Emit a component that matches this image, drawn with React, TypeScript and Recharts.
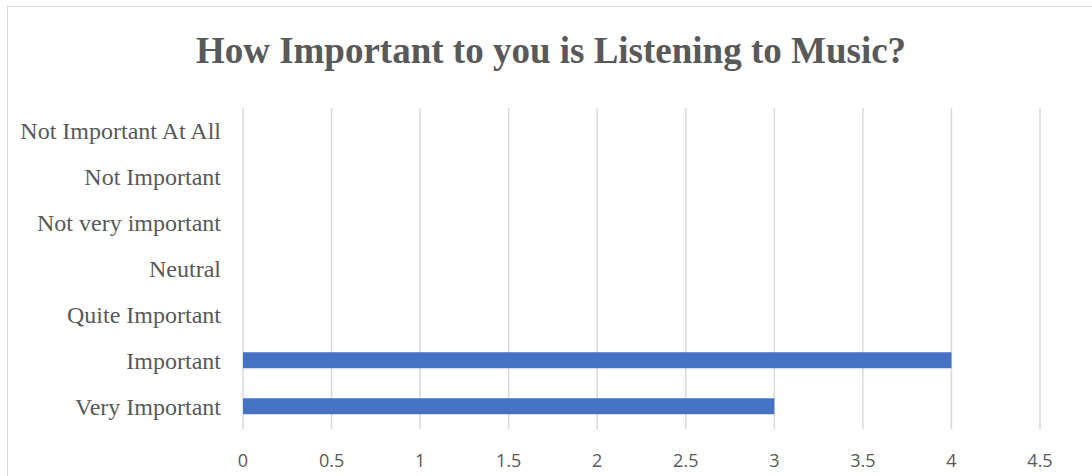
import React from "react";
import { BarChart, Bar, XAxis, YAxis, CartesianGrid } from "recharts";

const categories = [
  "Not Important At All",
  "Not Important ",
  "Not very important",
  "Neutral",
  "Quite Important",
  "Important",
  "Very Important",
];
const responses = [0, 0, 0, 0, 0, 4, 3];
const xTicks = [0, 0.5, 1, 1.5, 2, 2.5, 3, 3.5, 4, 4.5];

const data = categories.map((name, i) => ({ name, value: responses[i] }));

document.body.style.margin = "0";

export default function App() {
  return (
    <div style={{ position: "relative", width: 1092, height: 476, background: "#fff", overflow: "hidden" }}>
      <div
        style={{
          position: "absolute",
          left: 7,
          top: 6,
          width: 1090,
          height: 500,
          border: "1px solid #d9d9d9",
          boxSizing: "border-box",
        }}
      />
      <div
        style={{
          position: "absolute",
          left: 0,
          top: 27,
          width: 1102,
          textAlign: "center",
          fontFamily: "'Liberation Serif', 'Times New Roman', serif",
          fontWeight: "bold",
          fontSize: 37,
          color: "#595959",
          lineHeight: "48px",
        }}
      >
        How Important to you is Listening to Music?
      </div>
      <div style={{ position: "absolute", left: 0, top: 0 }}>
        <BarChart
          width={1092}
          height={476}
          data={data}
          layout="vertical"
          margin={{ top: 108, right: 52, bottom: 0, left: 0 }}
          barSize={16}
        >
          <CartesianGrid horizontal={false} stroke="#d9d9d9" strokeWidth={1.5} />
          <XAxis
            type="number"
            domain={[0, 4.5]}
            ticks={xTicks}
            height={47}
            axisLine={false}
            tickLine={false}
            tickSize={0}
            tickMargin={25}
            tick={{ fill: "#595959", fontSize: 18, fontFamily: "'Open Sans', sans-serif" }}
            interval={0}
          />
          <YAxis
            type="category"
            dataKey="name"
            width={243}
            axisLine={false}
            tickLine={false}
            tickSize={0}
            tickMargin={22}
            tick={{ fill: "#595959", fontSize: 24, fontFamily: "'Liberation Serif', 'Times New Roman', serif" }}
            interval={0}
          />
          <Bar dataKey="value" fill="#4472c4" isAnimationActive={false} />
        </BarChart>
      </div>
    </div>
  );
}
